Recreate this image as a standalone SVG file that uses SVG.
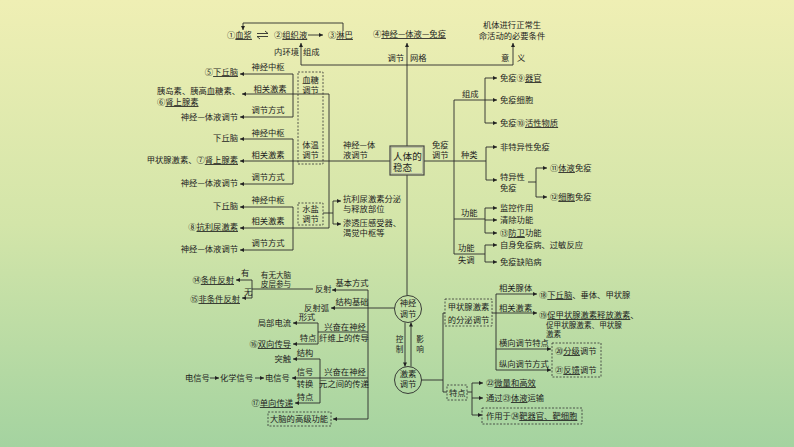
<svg xmlns="http://www.w3.org/2000/svg" width="794" height="447" viewBox="0 0 794 447">
<defs>
<linearGradient id="bg" x1="0" y1="0" x2="0" y2="1">
<stop offset="0" stop-color="#efefb4"/>
<stop offset="0.5" stop-color="#d3e5a9"/>
<stop offset="1" stop-color="#a4d3a0"/>
</linearGradient>
<marker id="a" viewBox="0 0 6 6" refX="6" refY="3" markerWidth="5" markerHeight="4" orient="auto" markerUnits="userSpaceOnUse">
<path d="M0,0 L6,3 L0,6 z" fill="#222"/>
</marker>
<style>
text{font-family:"Noto Sans CJK SC","Noto Sans CJK JP",sans-serif;font-size:8.3px;fill:#1e1e1e}
.u{text-decoration:underline}
.e{text-anchor:end}
.m{text-anchor:middle}
.s{font-size:7.6px}
.ln{stroke:#2b2b2b;stroke-width:0.9;fill:none}
.ar{stroke:#2b2b2b;stroke-width:0.9;fill:none;marker-end:url(#a)}
.db{stroke:#333;stroke-width:0.8;fill:none;stroke-dasharray:2 1.5}
.big{font-size:9.6px}
</style>
</defs>
<rect width="794" height="447" fill="url(#bg)"/>

<g id="connectors">
<path class="ln" d="M257,33.5 H268 l-3,-2.5 M268,36.5 H257 l3,2.5"/>
<path class="ar" d="M308,35 H323"/>
<path class="ar" d="M343,31 V23 H243 V30"/>
<path class="ln" d="M301,65 H513"/>
<path class="ar" d="M301,65 V43"/>
<path class="ar" d="M407,146 V43"/>
<path class="ar" d="M513,65 V43"/>
<path class="ln" d="M293,74 V117"/>
<path class="ar" d="M293,74 H240"/>
<path class="ar" d="M329,94 H242"/>
<path class="ar" d="M293,117 H240"/>
<path class="ln" d="M293,139 V184"/>
<path class="ar" d="M293,139 H240"/>
<path class="ar" d="M390,161 H240"/>
<path class="ar" d="M293,184 H240"/>
<path class="ln" d="M293,207 V250"/>
<path class="ar" d="M293,207 H240"/>
<path class="ar" d="M329,228 H240"/>
<path class="ar" d="M293,250 H240"/>
<path class="ln" d="M329,94 V228"/>
<path class="ln" d="M323,213 H333 M333,201 V224"/>
<path class="ar" d="M333,201 H341"/>
<path class="ar" d="M333,224 H341"/>
<path class="ln" d="M424,161 H486"/>
<path class="ln" d="M407,175 V295.5"/>
<path class="ln" d="M454,100 V254"/>
<path class="ar" d="M454,100 H497"/>
<path class="ln" d="M485,78 V123"/>
<path class="ar" d="M485,78 H497"/>
<path class="ar" d="M485,123 H497"/>
<path class="ln" d="M486,147 V180"/>
<path class="ar" d="M486,147 H497"/>
<path class="ar" d="M486,180 H497"/>
<path class="ln" d="M528,182 H536 M536,168 V197"/>
<path class="ar" d="M536,168 H547"/>
<path class="ar" d="M536,197 H547"/>
<path class="ln" d="M454,219 H485 M485,208 V233"/>
<path class="ar" d="M485,208 H497"/>
<path class="ar" d="M485,220 H497"/>
<path class="ar" d="M485,233 H497"/>
<path class="ln" d="M454,254 H485 M485,245 V262"/>
<path class="ar" d="M485,245 H497"/>
<path class="ar" d="M485,262 H497"/>
<path class="ar" d="M394.5,308 H331"/>
<path class="ln" d="M368,290 V419"/>
<path class="ar" d="M368,290 H332"/>
<path class="ln" d="M313,289 H252 M252,280 V298"/>
<path class="ar" d="M252,280 H236"/>
<path class="ar" d="M252,298 H242"/>
<path class="ln" d="M368,332 H318 M318,323 V344"/>
<path class="ar" d="M318,323 H293"/>
<path class="ar" d="M318,344 H293"/>
<path class="ar" d="M368,378 H292"/>
<path class="ln" d="M320,359 V403"/>
<path class="ar" d="M320,359 H293"/>
<path class="ar" d="M320,403 H295"/>
<path class="ar" d="M368,419 H333"/>
<path class="ar" d="M210,378 H219"/>
<path class="ar" d="M255,378 H264"/>
<path class="ar" d="M405,322.5 V366.5"/>
<path class="ar" d="M411,366.5 V322.5"/>
<path class="ln" d="M421.5,380 H443 M443,313 V392 H447 M443,313 H445"/>
<path class="ar" d="M492,313 H537"/>
<path class="ln" d="M496,294 V370"/>
<path class="ar" d="M496,294 H537"/>
<path class="ar" d="M496,349 H551"/>
<path class="ar" d="M496,370 H551"/>
<path class="ln" d="M467,392 H472 M472,383 V415"/>
<path class="ar" d="M472,383 H483"/>
<path class="ar" d="M472,398 H483"/>
<path class="ar" d="M472,415 H482"/>
</g>

<g id="top">
<text x="227" y="38">①<tspan class="u">血浆</tspan></text>
<text x="274" y="38">②<tspan class="u">组织液</tspan></text>
<text x="328" y="38">③<tspan class="u">淋巴</tspan></text>
<text x="373" y="37">④<tspan class="u">神经—体液—免疫</tspan></text>
<text class="m" x="512" y="28">机体进行正常生</text>
<text class="m" x="512" y="39">命活动的必要条件</text>
<text class="e" x="299" y="55">内环境</text>
<text x="303" y="55">组成</text>
<text class="e" x="404" y="61">调节</text>
<text x="410" y="61">网格</text>
<text x="501" y="61">意</text>
<text x="517" y="61">义</text>
</g>

<g id="blood-sugar">
<rect class="db" x="298" y="72" width="25" height="92"/>
<text class="m" x="310.5" y="83">血糖</text>
<text class="m" x="310.5" y="93">调节</text>
<text class="m" x="268" y="70">神经中枢</text>
<text class="m" x="270" y="92">相关激素</text>
<text class="m" x="268" y="113">调节方式</text>
<text class="e" x="238" y="75">⑤<tspan class="u">下丘脑</tspan></text>
<text class="e" x="240" y="94">胰岛素、胰高血糖素、</text>
<text x="157" y="105">⑥<tspan class="u">肾上腺素</tspan></text>
<text class="e" x="238" y="120">神经—体液调节</text>
</g>

<g id="temperature">
<text class="m" x="310.5" y="148">体温</text>
<text class="m" x="310.5" y="158">调节</text>
<text class="m" x="268" y="136">神经中枢</text>
<text class="m" x="268" y="158">相关激素</text>
<text class="m" x="268" y="180">调节方式</text>
<text class="e" x="238" y="141">下丘脑</text>
<text class="e" x="238" y="163">甲状腺激素、⑦<tspan class="u">肾上腺素</tspan></text>
<text class="e" x="238" y="186">神经—体液调节</text>
</g>

<g id="water-salt">
<rect class="db" x="298" y="203" width="25" height="22"/>
<text class="m" x="310.5" y="212">水盐</text>
<text class="m" x="310.5" y="222">调节</text>
<text class="m" x="268" y="203">神经中枢</text>
<text class="m" x="268" y="224">相关激素</text>
<text class="m" x="268" y="246">调节方式</text>
<text class="e" x="238" y="209">下丘脑</text>
<text class="e" x="238" y="230">⑧<tspan class="u">抗利尿激素</tspan></text>
<text class="e" x="238" y="252">神经—体液调节</text>
<text x="343" y="202">抗利尿激素分泌</text>
<text x="343" y="212">与释放部位</text>
<text x="343" y="226">渗透压感受器、</text>
<text x="343" y="236">渴觉中枢等</text>
</g>

<g id="center">
<rect x="390" y="146" width="34" height="29" fill="none" stroke="#444" stroke-width="1.2"/>
<rect x="391.5" y="147.5" width="31" height="26" fill="none" stroke="#999" stroke-width="0.5"/>
<text class="big" x="393" y="160">人体的</text>
<text class="big" x="393" y="171">稳态</text>
<text x="343" y="148">神经—体</text>
<text x="343" y="158">液调节</text>
<text x="432" y="148">免疫</text>
<text x="432" y="158">调节</text>
</g>

<g id="immunity">
<text x="462" y="97">组成</text>
<text x="461" y="158">种类</text>
<text x="461" y="216">功能</text>
<text x="458" y="251">功能</text>
<text x="458" y="263">失调</text>
<text x="500" y="81">免疫⑨<tspan class="u">器官</tspan></text>
<text x="500" y="103">免疫细胞</text>
<text x="500" y="126">免疫⑩<tspan class="u">活性物质</tspan></text>
<text x="500" y="150">非特异性免疫</text>
<text x="500" y="180">特异性</text>
<text x="500" y="191">免疫</text>
<text x="550" y="171">⑪<tspan class="u">体液</tspan>免疫</text>
<text x="550" y="200">⑫<tspan class="u">细胞</tspan>免疫</text>
<text x="500" y="211">监控作用</text>
<text x="500" y="223">清除功能</text>
<text x="500" y="236">⑬<tspan class="u">防卫</tspan>功能</text>
<text x="500" y="248">自身免疫病、过敏反应</text>
<text x="500" y="265">免疫缺陷病</text>
</g>

<g id="neural">
<circle cx="408" cy="309" r="13.5" fill="none" stroke="#2b2b2b" stroke-width="0.9"/>
<text class="m" x="408" y="306">神经</text>
<text class="m" x="408" y="316.5">调节</text>
<text class="m" x="352" y="286">基本方式</text>
<text x="315" y="292">反射</text>
<text class="m s" x="276" y="278">有无大脑</text>
<text class="m s" x="276" y="287">皮层参与</text>
<text x="241" y="276">有</text>
<text x="244" y="295">无</text>
<text class="e" x="234" y="283">⑭<tspan class="u">条件反射</tspan></text>
<text class="e" x="240" y="302">⑮<tspan class="u">非条件反射</tspan></text>
<text class="m" x="352" y="305">结构基础</text>
<text class="e" x="329" y="311">反射弧</text>
<text class="m" x="345" y="330">兴奋在神经</text>
<text class="m" x="344" y="341">纤维上的传导</text>
<text class="m" x="307" y="320">形式</text>
<text class="e" x="291" y="326">局部电流</text>
<text class="m" x="308" y="341">特点</text>
<text class="e" x="291" y="347">⑯<tspan class="u">双向传导</tspan></text>
<text class="m" x="305" y="356">结构</text>
<text class="e" x="291" y="362">突触</text>
<text class="m" x="305" y="375">信号</text>
<text class="m" x="305" y="387">转换</text>
<text class="m" x="345" y="375">兴奋在神经</text>
<text class="m" x="344" y="387">元之间的传递</text>
<text class="m" x="305" y="400">特点</text>
<text class="e" x="293" y="406">⑰<tspan class="u">单向传递</tspan></text>
<text x="185" y="381">电信号</text>
<text x="220" y="381">化学信号</text>
<text x="265" y="381">电信号</text>
<rect class="db" x="268" y="412" width="63" height="14"/>
<text x="270" y="422">大脑的高级功能</text>
<text class="m s" x="399.5" y="342">控</text>
<text class="m s" x="399.5" y="351.5">制</text>
<text class="m s" x="420" y="342">影</text>
<text class="m s" x="420" y="351.5">响</text>
</g>

<g id="hormone">
<circle cx="408" cy="380" r="13.5" fill="none" stroke="#2b2b2b" stroke-width="0.9"/>
<text class="m" x="408" y="377">激素</text>
<text class="m" x="408" y="387">调节</text>
<rect class="db" x="445" y="299" width="47" height="27"/>
<text class="m" x="468.5" y="309.5">甲状腺激素</text>
<text class="m" x="468.5" y="322.5">的分泌调节</text>
<text x="499" y="291">相关腺体</text>
<text x="499" y="311">相关激素</text>
<text x="499" y="346">横向调节特点</text>
<text x="499" y="367">纵向调节方式</text>
<text x="539" y="298">⑱<tspan class="u">下丘脑</tspan>、垂体、甲状腺</text>
<text x="539" y="318">⑲<tspan class="u">促甲状腺激素释放激素</tspan>、</text>
<text class="s" x="546" y="327.5">促甲状腺激素、甲状腺</text>
<text class="s" x="546" y="337">激素</text>
<rect class="db" x="552" y="343" width="49" height="34"/>
<text x="555" y="354">⑳<tspan class="u">分级</tspan>调节</text>
<text x="555" y="373">㉑<tspan class="u">反馈</tspan>调节</text>
<rect class="db" x="447" y="385" width="20" height="15"/>
<text x="449" y="395.5">特点</text>
<text x="486" y="386">㉒<tspan class="u">微量和高效</tspan></text>
<text x="486" y="401">通过㉓<tspan class="u">体液</tspan>运输</text>
<rect class="db" x="482" y="408" width="100" height="16"/>
<text x="486" y="419">作用于㉔<tspan class="u">靶器官、靶细胞</tspan></text>
</g>
</svg>
